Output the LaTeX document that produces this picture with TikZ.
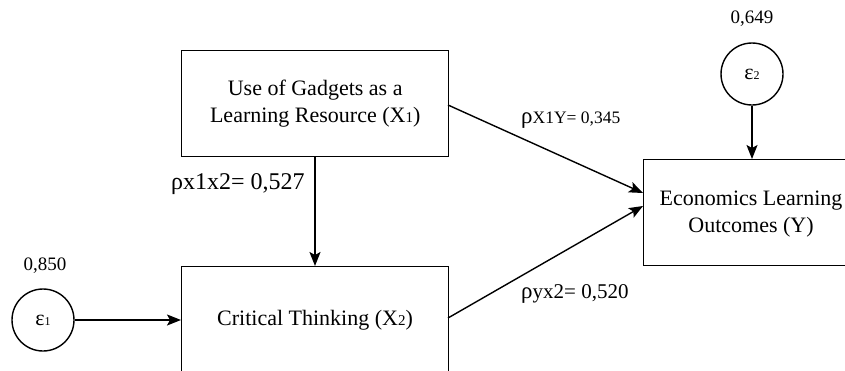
\documentclass[tikz,border=0pt]{standalone}
\usepackage{fontspec}
\setmainfont{Liberation Serif}
\usetikzlibrary{arrows.meta}
\begin{document}
\begin{tikzpicture}[x=1pt,y=-1pt,
  box/.style={draw,line width=1.4pt,inner sep=0pt,anchor=north west,align=center,font=\fontsize{22}{27}\selectfont},
  err/.style={draw,circle,line width=1.4pt,minimum size=62pt,inner sep=0pt,font=\fontsize{22}{22}\selectfont},
  num/.style={font=\fontsize{19}{22}\selectfont,inner sep=0pt},
  arr/.style={line width=1.4pt,-{Stealth[length=14pt,width=11pt,inset=3pt]}},
  lab/.style={inner sep=0pt}]
\useasboundingbox (0,0) rectangle (845,370);
\fill[white] (0,0) rectangle (845,370);
\node[box,minimum width=267pt,minimum height=106pt] (x1) at (181,50) {Use of Gadgets as a\\Learning Resource (X{\fontsize{15}{16}\selectfont 1})};
\node[box,minimum width=267pt,minimum height=120pt] (x2) at (181,266) {};
\node[font=\fontsize{22}{26}\selectfont] (x2t) at (315,320) {Critical Thinking (X{\fontsize{15}{16}\selectfont 2})};
\node[box,minimum width=210pt,minimum height=106pt] (y) at (643,159) {};
\node[font=\fontsize{22}{27}\selectfont,align=center] (yt) at (751,214) {Economics Learning\\Outcomes (Y)};
\node[err] (e1) at (43,320) {ε{\fontsize{12}{12}\selectfont 1}};
\node[err] (e2) at (752,74) {ε{\fontsize{12}{12}\selectfont 2}};
\node[num] (n1) at (45,266) {0,850};
\node[num] (n2) at (752,19) {0,649};
\coordinate (x1b) at (315,156);
\coordinate (x2t) at (315,266);
\coordinate (x1r) at (448,105);
\coordinate (x2r) at (448,318);
\coordinate (ya) at (643,193);
\coordinate (yb) at (643,206);
\coordinate (yt2) at (752,159);
\coordinate (x2l) at (181,320);
\draw[arr] (x1b) -- (x2t);
\draw[arr] (e1) -- (x2l);
\draw[arr] (e2) -- (yt2);
\draw[arr] (x1r) -- (ya);
\draw[arr] (x2r) -- (yb);
\node[lab,anchor=west] (l1) at (521,120) {{\fontsize{23}{22}\selectfont ρ}{\fontsize{17.5}{18}\selectfont X1Y= 0,345}};
\node[lab,anchor=west] (l2) at (171,184) {\fontsize{24}{24}\selectfont ρx1x2= 0,527};
\node[lab,anchor=west] (l3) at (521,294) {{\fontsize{23}{22}\selectfont ρ}{\fontsize{21}{22}\selectfont yx2= 0,520}};
\end{tikzpicture}
\end{document}
